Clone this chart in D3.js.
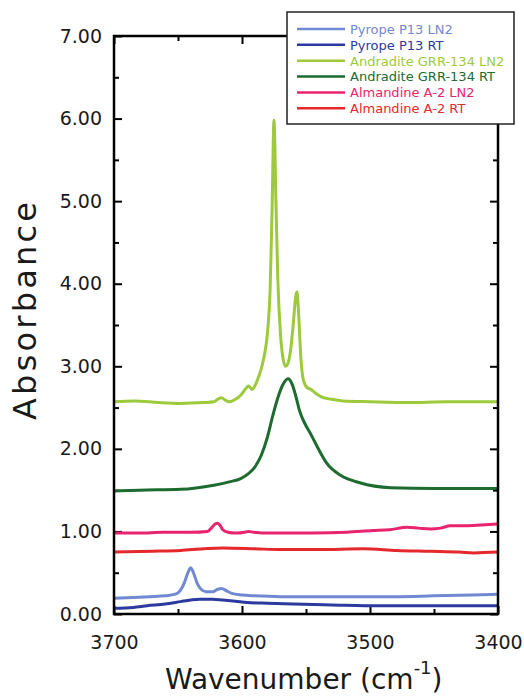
<!DOCTYPE html>
<html>
<head>
<meta charset="utf-8">
<script src="https://cdn.jsdelivr.net/npm/d3@7"></script>
<style>
  body { margin: 0; background: #fff; }
  svg { display: block; }
  text { font-family: "DejaVu Sans", Verdana, sans-serif; }
</style>
</head>
<body>
<div id="chart"></div>
<script>
// Spectra: [wavenumber (cm-1), absorbance]
const pyropeLN2 = [[3700,0.19],[3685,0.20],[3672,0.21],[3660,0.22],[3652,0.24],[3648,0.29],[3645,0.38],[3643,0.47],[3640,0.56],[3637,0.46],[3635,0.37],[3632,0.30],[3628,0.27],[3623,0.27],[3619,0.30],[3616,0.31],[3612,0.28],[3608,0.25],[3600,0.23],[3590,0.22],[3570,0.21],[3540,0.21],[3500,0.21],[3480,0.21],[3450,0.22],[3420,0.23],[3400,0.24]];
const pyropeRT = [[3700,0.07],[3685,0.08],[3674,0.10],[3660,0.12],[3648,0.15],[3640,0.17],[3633,0.18],[3623,0.18],[3615,0.17],[3605,0.155],[3596,0.14],[3580,0.13],[3560,0.12],[3530,0.11],[3492,0.10],[3450,0.10],[3400,0.10]];
const andraditeLN2 = [[3700,2.57],[3684,2.58],[3665,2.56],[3648,2.55],[3630,2.56],[3622,2.57],[3619,2.60],[3616,2.62],[3613,2.59],[3610,2.57],[3605,2.60],[3601,2.65],[3597,2.73],[3595,2.76],[3592,2.72],[3590,2.76],[3588,2.83],[3585,2.97],[3582,3.18],[3580,3.42],[3578,3.95],[3576.5,4.9],[3575,5.98],[3573.5,5.0],[3572,4.05],[3570,3.4],[3568,3.1],[3566,3.00],[3564,3.04],[3562,3.2],[3560,3.5],[3558,3.85],[3557,3.90],[3556,3.7],[3554,3.1],[3552,2.83],[3549,2.74],[3546,2.72],[3543,2.68],[3538,2.63],[3530,2.60],[3521,2.58],[3500,2.57],[3470,2.56],[3440,2.57],[3400,2.57]];
const andraditeRT = [[3700,1.49],[3680,1.50],[3648,1.51],[3622,1.56],[3610,1.60],[3601,1.64],[3595,1.70],[3590,1.78],[3585,1.92],[3580,2.15],[3576,2.40],[3572,2.62],[3568,2.78],[3564,2.85],[3561,2.79],[3558,2.64],[3555,2.46],[3551,2.31],[3547,2.20],[3541,2.02],[3534,1.83],[3523,1.68],[3508,1.59],[3484,1.53],[3450,1.52],[3400,1.52]];
const almandineLN2 = [[3700,0.98],[3680,0.98],[3662,0.99],[3640,0.99],[3627,1.00],[3624,1.04],[3621,1.09],[3619,1.10],[3617,1.07],[3615,1.02],[3611,0.99],[3605,0.98],[3598,0.99],[3595,1.00],[3591,0.99],[3584,0.98],[3570,0.98],[3545,0.98],[3518,0.99],[3498,1.01],[3485,1.02],[3471,1.05],[3462,1.04],[3453,1.03],[3445,1.04],[3437,1.07],[3424,1.07],[3410,1.08],[3400,1.09]];
const almandineRT = [[3700,0.75],[3670,0.76],[3648,0.77],[3630,0.79],[3615,0.80],[3590,0.79],[3570,0.78],[3540,0.78],[3505,0.79],[3479,0.77],[3453,0.76],[3430,0.75],[3419,0.74],[3400,0.75]];

const seriesNames = ["Pyrope P13 LN2", "Pyrope P13 RT", "Andradite GRR-134 LN2", "Andradite GRR-134 RT", "Almandine A-2 LN2", "Almandine A-2 RT"];
const seriesData = [pyropeLN2, pyropeRT, andraditeLN2, andraditeRT, almandineLN2, almandineRT];
const seriesColors = ["#7189d2", "#2c3aa0", "#9dca3d", "#1d6b2e", "#e8246e", "#e5282b"];

const xMajorTicks = [3700, 3600, 3500, 3400];
const xMinorTicks = [3650, 3550, 3450];
const yMajorTicks = [0, 1, 2, 3, 4, 5, 6, 7];
const yMinorTicks = [0.5, 1.5, 2.5, 3.5, 4.5, 5.5, 6.5];

const width = 524;
const height = 697;
const plot = { left: 114, right: 498, top: 36, bottom: 614 };

const svg = d3.select("#chart").append("svg")
  .attr("width", width)
  .attr("height", height);

const x = d3.scaleLinear().domain([3700, 3400]).range([plot.left, plot.right]);
const y = d3.scaleLinear().domain([0, 7]).range([plot.bottom, plot.top]);

/* ---------- axes (ticks point inward, mirrored on all sides) ---------- */
function styleAxis(g) {
  g.select(".domain").remove();
  g.selectAll(".tick line").attr("stroke", "#000").attr("stroke-width", 2);
  g.selectAll(".tick text").attr("font-size", 19).attr("fill", "#1a1a1a")
    .attr("font-family", "'DejaVu Sans', Verdana, sans-serif");
}

svg.append("g").attr("transform", `translate(0,${plot.bottom})`)
  .call(d3.axisBottom(x).tickValues(xMajorTicks).tickSizeInner(-8).tickSizeOuter(0).tickPadding(22).tickFormat(d3.format("d")))
  .call(styleAxis);
svg.append("g").attr("transform", `translate(0,${plot.bottom})`)
  .call(d3.axisBottom(x).tickValues(xMinorTicks).tickSizeInner(-5).tickSizeOuter(0).tickFormat(""))
  .call(styleAxis);
svg.append("g").attr("transform", `translate(0,${plot.top})`)
  .call(d3.axisTop(x).tickValues(xMajorTicks).tickSizeInner(-8).tickSizeOuter(0).tickFormat(""))
  .call(styleAxis);
svg.append("g").attr("transform", `translate(0,${plot.top})`)
  .call(d3.axisTop(x).tickValues(xMinorTicks).tickSizeInner(-5).tickSizeOuter(0).tickFormat(""))
  .call(styleAxis);

svg.append("g").attr("transform", `translate(${plot.left},0)`)
  .call(d3.axisLeft(y).tickValues(yMajorTicks).tickSizeInner(-8).tickSizeOuter(0).tickPadding(12).tickFormat(d3.format(".2f")))
  .call(styleAxis);
svg.append("g").attr("transform", `translate(${plot.left},0)`)
  .call(d3.axisLeft(y).tickValues(yMinorTicks).tickSizeInner(-5).tickSizeOuter(0).tickFormat(""))
  .call(styleAxis);
svg.append("g").attr("transform", `translate(${plot.right},0)`)
  .call(d3.axisRight(y).tickValues(yMajorTicks).tickSizeInner(-8).tickSizeOuter(0).tickFormat(""))
  .call(styleAxis);
svg.append("g").attr("transform", `translate(${plot.right},0)`)
  .call(d3.axisRight(y).tickValues(yMinorTicks).tickSizeInner(-5).tickSizeOuter(0).tickFormat(""))
  .call(styleAxis);

/* ---------- spectra ---------- */
const line = d3.line()
  .x(d => x(d[0]))
  .y(d => y(d[1]))
  .curve(d3.curveMonotoneX);

svg.append("g")
  .selectAll("path")
  .data(seriesData)
  .join("path")
  .attr("d", line)
  .attr("fill", "none")
  .attr("stroke", (d, i) => seriesColors[i])
  .attr("stroke-width", 3)
  .attr("stroke-linejoin", "round");

// frame
svg.append("rect")
  .attr("x", plot.left).attr("y", plot.top)
  .attr("width", plot.right - plot.left).attr("height", plot.bottom - plot.top)
  .attr("fill", "none").attr("stroke", "#000").attr("stroke-width", 2.5);

/* ---------- axis titles ---------- */
svg.append("text")
  .attr("transform", `translate(36,311) rotate(-90)`)
  .attr("text-anchor", "middle")
  .attr("font-size", 32)
  .attr("textLength", 218)
  .attr("lengthAdjust", "spacing")
  .attr("fill", "#1a1a1a")
  .text("Absorbance");

const xt = svg.append("text")
  .attr("x", 165).attr("y", 689)
  .attr("font-size", 28)
  .attr("fill", "#1a1a1a");
xt.append("tspan").text("Wavenumber (cm");
xt.append("tspan").attr("font-size", 18).attr("dy", -15).text("-1");
xt.append("tspan").attr("dy", 15).text(")");

/* ---------- legend ---------- */
const legend = svg.append("g");
legend.append("rect")
  .attr("x", 287).attr("y", 12)
  .attr("width", 227).attr("height", 112)
  .attr("fill", "#fff").attr("stroke", "#222").attr("stroke-width", 1.5);

const rows = legend.selectAll("g.row")
  .data(seriesNames)
  .join("g")
  .attr("class", "row")
  .attr("transform", (d, i) => `translate(0,${29 + i * 15.85})`);
rows.append("line")
  .attr("x1", 297).attr("x2", 345)
  .attr("stroke", (d, i) => seriesColors[i])
  .attr("stroke-width", 2.5);
rows.append("text")
  .attr("x", 350).attr("y", 4.8)
  .attr("font-size", 13)
  .attr("fill", (d, i) => seriesColors[i])
  .text(d => d);
</script>
</body>
</html>
